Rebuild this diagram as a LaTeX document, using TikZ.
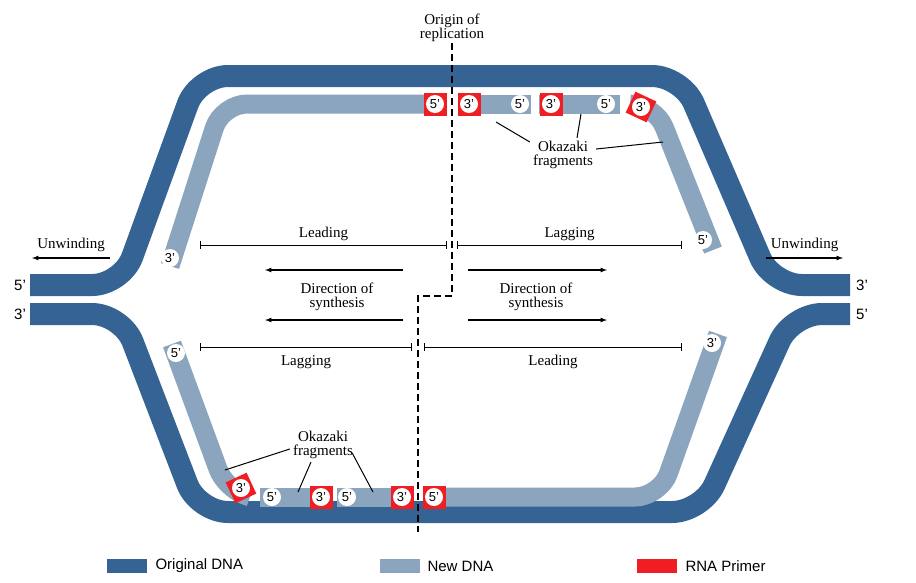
\documentclass[tikz,border=0pt]{standalone}
\usepackage{fontspec}
\setmainfont{Liberation Serif}
\setsansfont{Liberation Sans}
\usetikzlibrary{arrows}
\definecolor{olddna}{HTML}{356494}
\definecolor{newdna}{HTML}{8BA5BE}
\definecolor{primer}{HTML}{F01E23}
\tikzset{
      old/.style = {draw=olddna, line width=22pt, rounded corners=30pt},
      new/.style = {draw=newdna, line width=19pt},
   primer/.style = {fill=primer, minimum size=23pt, inner sep=0pt},
      end/.style = {circle, fill=white, inner sep=0.5pt, minimum size=18pt, font=\sffamily\fontsize{13}{13}\selectfont},
     term/.style = {font=\sffamily\fontsize{15}{15}\selectfont},
      lbl/.style = {font=\fontsize{15}{14}\selectfont, align=center, inner sep=1pt},
     span/.style = {draw, |-|, line width=1pt},
     move/.style = {draw, -latex, line width=1.2pt},
      key/.style = {font=\sffamily\fontsize{15}{15}\selectfont, anchor=west},
}
\begin{document}
\begin{tikzpicture}[x=1pt, y=-1pt]
\useasboundingbox (0,0) rectangle (916,582);
% parental strands
\draw[old] (30,285) -- (122,285) -- (198,76) -- (682,76) -- (772,285) -- (850,285);
\draw[old] (30,314) -- (122,314) -- (198,512) -- (702,512) -- (792,314) -- (850,314);
% new strands, top
\draw[new, rounded corners=25pt] (170,266) -- (222,104) -- (446,104);
\draw[new] (458,104) -- (531,104);
\draw[new] (539,104) -- (620,104);
\draw[new, rounded corners=25pt] (630,104) -- (655,104) -- (713,250);
% new strands, bottom
\draw[new, rounded corners=20pt] (172,344) -- (225,488) -- (250,497);
\draw[new] (260,497) -- (333,497);
\draw[new] (337,497) -- (413,497);
\draw[new, rounded corners=25pt] (423,497) -- (660,497) -- (718,334);
% primers
\node[primer] (p1) at (435,104) {};
\node[primer] (p2) at (469,104) {};
\node[primer] (p3) at (551,104) {};
\node[primer, rotate=-25] (p4) at (641,107) {};
\node[primer, rotate=25] (p5) at (241,488) {};
\node[primer] (p6) at (321,497) {};
\node[primer] (p7) at (402,497) {};
\node[primer] (p8) at (434,497) {};
% strand ends
\node[end] at (p1) {5'};
\node[end] at (p2) {3'};
\node[end] (f1) at (520,104) {5'};
\node[end] at (p3) {3'};
\node[end] (f2) at (606,104) {5'};
\node[end] at (p4) {3'};
\node[end] at (170,258) {3'};
\node[end] at (703,240) {5'};
\node[end] at (176,353) {5'};
\node[end] at (712,343) {3'};
\node[end] at (p5) {3'};
\node[end] (f3) at (272,497) {5'};
\node[end] at (p6) {3'};
\node[end] (f4) at (347,497) {5'};
\node[end] at (p7) {3'};
\node[end] at (p8) {5'};
% terminal labels
\node[term] at (20,285) {5'};
\node[term] at (20,314) {3'};
\node[term] at (862,285) {3'};
\node[term] at (862,314) {5'};
% origin
\node[lbl] (origin) at (452,28) {Origin of\\replication};
\draw[dash pattern=on 7pt off 4pt, line width=1.2pt] (origin.south) -- (452,296) -- (418,296) -- (418,532);
% Okazaki fragments
\node[lbl] (okt) at (563,155) {Okazaki\\fragments};
\draw[line width=1pt] (okt.north west) ++(-2,2) -- (496,122);
\draw[line width=1pt] (okt.north) ++(14,-2) -- (581,114);
\draw[line width=1pt] (okt.east) ++(2,-6) -- (663,142);
\node[lbl] (okb) at (323,445) {Okazaki\\fragments};
\draw[line width=1pt] (okb.west) ++(-2,4) -- (225,470);
\draw[line width=1pt] (okb.south) ++(-12,2) -- (298,492);
\draw[line width=1pt] (okb.east) ++(-2,8) -- (373,492);
% spans
\draw[span] (200,245) -- node[lbl, above=3pt] {Leading} (447,245);
\draw[span] (457,245) -- node[lbl, above=3pt] {Lagging} (682,245);
\draw[span] (200,347) -- node[lbl, below=7pt] {Lagging} (412,347);
\draw[span] (424,347) -- node[lbl, below=7pt] {Leading} (682,347);
% direction of synthesis
\draw[move] (403,270) -- (265,270);
\draw[move] (403,320) -- (265,320);
\draw[move] (468,270) -- (607,270);
\draw[move] (468,320) -- (607,320);
\node[lbl] at (337,297) {Direction of\\synthesis};
\node[lbl] at (536,297) {Direction of\\synthesis};
% unwinding
\draw[move] (110,258) -- node[lbl, above=5pt] {Unwinding} (32,258);
\draw[move] (766,258) -- node[lbl, above=5pt] {Unwinding} (843,258);
% legend
\fill[olddna] (107,559) rectangle (147,573);
\node[key] at (152,566) {Original DNA};
\fill[newdna] (380,559) rectangle (420,573);
\node[key] at (424,566) {New DNA};
\fill[primer] (637,559) rectangle (677,573);
\node[key] at (682,566) {RNA Primer};
\end{tikzpicture}
\end{document}
